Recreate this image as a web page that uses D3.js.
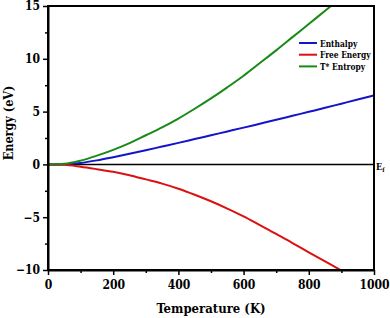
<!DOCTYPE html>
<html>
<head>
<meta charset="utf-8">
<script src="https://cdn.jsdelivr.net/npm/d3@7"></script>
<style>
  body { margin: 0; background: #fff; }
  svg text { font-stretch: condensed; }
</style>
</head>
<body>
<div id="chart"></div>
<script>
// values
const temps = [0, 50, 100, 150, 200, 250, 300, 350, 400, 450, 500, 550, 600, 650, 700, 750, 800, 850, 900, 950, 1000];
const enthalpy = [0, 0.02, 0.14, 0.38, 0.68, 1.0, 1.34, 1.69, 2.04, 2.4, 2.76, 3.12, 3.48, 3.85, 4.22, 4.6, 4.98, 5.36, 5.75, 6.14, 6.54];
const freeEnergy = [0, -0.04, -0.22, -0.45, -0.7, -1.02, -1.42, -1.82, -2.3, -2.87, -3.49, -4.18, -4.92, -5.75, -6.58, -7.45, -8.32, -9.19, -10.05, -10.91, -11.76];
const entropyT = [0, 0.06, 0.36, 0.83, 1.38, 2.02, 2.76, 3.51, 4.34, 5.27, 6.25, 7.3, 8.4, 9.6, 10.8, 12.05, 13.3, 14.55, 15.8, 17.05, 18.3];

const seriesNames = ["Enthalpy", "Free Energy", "T* Entropy"];
const seriesColors = ["#1414c8", "#dc1010", "#178a17"];
const seriesValues = [enthalpy, freeEnergy, entropyT];

const xTicks = [0, 200, 400, 600, 800, 1000];
const yTicks = [-10, -5, 0, 5, 10, 15];

const font = "'DejaVu Serif Condensed', 'DejaVu Serif', serif";

const width = 390, height = 318;
const margin = { top: 6, right: 16, bottom: 48, left: 48 };
const iw = width - margin.left - margin.right;
const ih = height - margin.top - margin.bottom;

const svg = d3.select("#chart").append("svg")
    .attr("width", width)
    .attr("height", height)
    .attr("font-family", font)
    .attr("font-weight", "bold");

const x = d3.scaleLinear().domain([0, 1000]).range([margin.left, margin.left + iw]);
const y = d3.scaleLinear().domain([-10, 15]).range([margin.top + ih, margin.top]);

svg.append("clipPath").attr("id", "plot-clip")
    .append("rect")
    .attr("x", margin.left).attr("y", margin.top)
    .attr("width", iw).attr("height", ih);

// zero (Fermi) line
svg.append("line")
    .attr("x1", x(0)).attr("x2", x(1000))
    .attr("y1", y(0)).attr("y2", y(0))
    .attr("stroke", "#000")
    .attr("stroke-width", 1.5);

const line = d3.line()
    .x((d, i) => x(temps[i]))
    .y(d => y(d))
    .curve(d3.curveMonotoneX);

const g = svg.append("g").attr("clip-path", "url(#plot-clip)");
seriesValues.forEach((vals, k) => {
    g.append("path")
        .datum(vals)
        .attr("fill", "none")
        .attr("stroke", seriesColors[k])
        .attr("stroke-width", 2)
        .attr("d", line);
});

// minor ticks
const xMinor = d3.range(100, 1000, 200);
const yMinor = d3.range(-7.5, 15, 5);
svg.append("g")
    .attr("transform", `translate(0,${margin.top + ih})`)
    .call(d3.axisBottom(x).tickValues(xMinor).tickSize(3).tickFormat(""))
    .call(a => a.select(".domain").remove())
    .selectAll("line").attr("stroke-width", 1.5);
svg.append("g")
    .attr("transform", `translate(${margin.left},0)`)
    .call(d3.axisLeft(y).tickValues(yMinor).tickSize(3).tickFormat(""))
    .call(a => a.select(".domain").remove())
    .selectAll("line").attr("stroke-width", 1.5);

// major axes
const xAxis = svg.append("g")
    .attr("transform", `translate(0,${margin.top + ih})`)
    .call(d3.axisBottom(x).tickValues(xTicks).tickSize(5).tickPadding(5).tickSizeOuter(0)
        .tickFormat(d3.format("d")));
const yAxis = svg.append("g")
    .attr("transform", `translate(${margin.left},0)`)
    .call(d3.axisLeft(y).tickValues(yTicks).tickSize(5).tickPadding(3).tickSizeOuter(0)
        .tickFormat(d => d < 0 ? "\u2212" + Math.abs(d) : d));

[xAxis, yAxis].forEach(a => {
    a.attr("font-family", font).attr("font-size", 12).attr("font-weight", "bold");
    a.selectAll("line").attr("stroke-width", 1.5);
    a.select(".domain").attr("stroke-width", 2);
    a.selectAll("text").attr("fill", "#000");
});

// frame top and right
svg.append("rect")
    .attr("x", margin.left).attr("y", margin.top)
    .attr("width", iw).attr("height", ih)
    .attr("fill", "none")
    .attr("stroke", "#000")
    .attr("stroke-width", 2);

// Ef label
const ef = svg.append("text")
    .attr("x", margin.left + iw + 2)
    .attr("y", y(0) + 6)
    .attr("font-size", 9);
ef.append("tspan").text("E");
ef.append("tspan").attr("dy", 2).attr("font-size", 6).text("f");

// axis titles
svg.append("text")
    .attr("x", margin.left + iw / 2)
    .attr("y", 313)
    .attr("text-anchor", "middle")
    .attr("font-size", 13)
    .text("Temperature (K)");

svg.append("text")
    .attr("transform", `translate(13,123) rotate(-90)`)
    .attr("text-anchor", "middle")
    .attr("font-size", 12.5)
    .text("Energy (eV)");

// legend
const legend = svg.append("g").attr("transform", "translate(299,43)");
seriesNames.forEach((name, i) => {
    const row = legend.append("g").attr("transform", `translate(0,${i * 11.7})`);
    row.append("line")
        .attr("x1", 0).attr("x2", 18)
        .attr("stroke", seriesColors[i])
        .attr("stroke-width", 2);
    row.append("text")
        .attr("x", 21)
        .attr("y", 3.5)
        .attr("font-size", 8.3)
        .text(name);
});
</script>
</body>
</html>
